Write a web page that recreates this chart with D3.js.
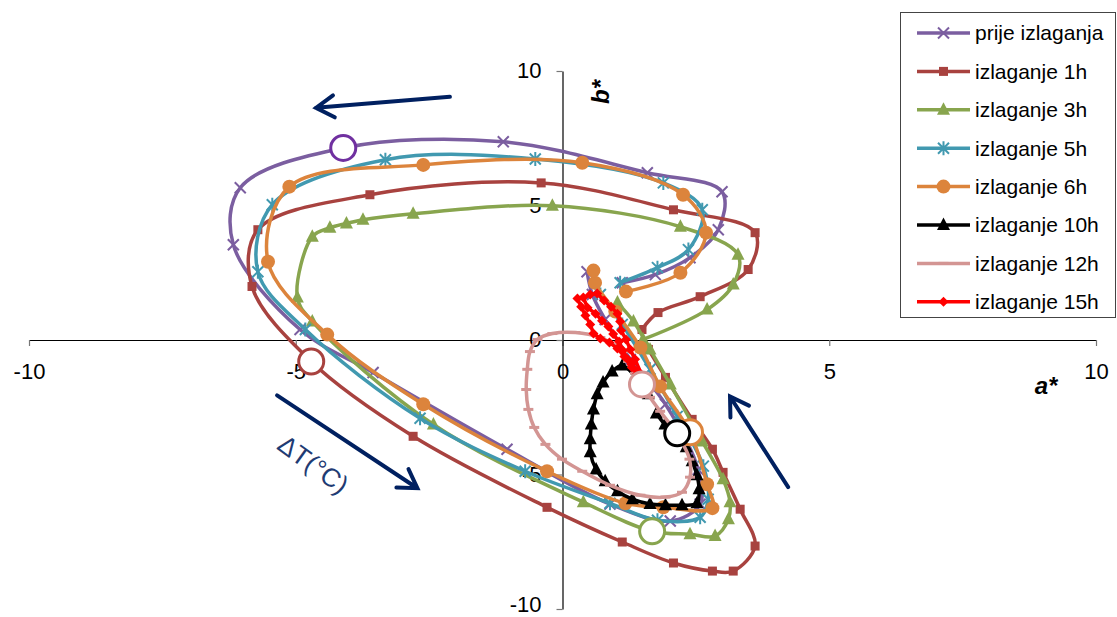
<!DOCTYPE html>
<html><head><meta charset="utf-8">
<script src="https://cdn.jsdelivr.net/npm/d3@7"></script>
<style>body{margin:0;background:#fff} svg{display:block} text{font-family:Arial,"Liberation Sans",sans-serif}</style>
</head><body><svg id="c" width="1117" height="617"></svg>
<script>
// ---------- data (a*, b*) ----------
const seriesNames = ["prije izlaganja","izlaganje 1h","izlaganje 3h","izlaganje 5h","izlaganje 6h","izlaganje 10h","izlaganje 12h","izlaganje 15h"];
const xTicks = [-10,-5,0,5,10];
const yTicks = [-10,-5,0,5,10];

const prije = [[1.12,2.13],[1.74,2.43],[2.39,3.06],[2.92,4.10],[2.99,5.51],[1.59,6.22],[-1.11,7.37],[-4.11,7.14],[-6.04,5.66],[-6.17,3.54],[-4.92,0.39],[-3.55,-1.21],[-1.04,-4.06],[0.89,-6.10],[2.02,-6.73],[2.58,-6.10],[2.54,-4.81],[1.93,-2.39],[1.27,-0.72],[0.80,0.76],[0.56,1.69],[0.46,2.54]];
const izl1h = [[1.49,0.39],[1.79,1.02],[2.58,1.61],[3.48,2.62],[3.61,3.99],[2.08,4.84],[-0.40,5.84],[-3.61,5.40],[-5.71,4.10],[-5.82,1.99],[-4.71,-0.80],[-2.80,-3.58],[-0.29,-6.22],[1.12,-7.51],[2.08,-8.29],[2.81,-8.59],[3.20,-8.59],[3.61,-7.66],[3.33,-6.29],[3.01,-4.92],[2.81,-4.06],[2.43,-2.95],[1.93,-1.39],[1.61,-0.35]];
const izl3h = [[1.51,0.02],[2.71,1.13],[3.20,2.06],[3.29,3.17],[2.21,4.21],[-0.19,4.99],[-2.80,4.69],[-3.74,4.47],[-4.05,4.33],[-4.36,4.17],[-4.69,3.84],[-4.97,1.58],[-4.69,0.69],[-2.42,-3.14],[0.39,-6.03],[1.68,-7.11],[2.39,-7.22],[2.86,-7.29],[3.11,-6.66],[3.14,-6.03],[3.01,-5.18],[2.62,-3.77],[2.02,-1.65],[1.64,-0.35],[1.33,0.69],[1.03,1.39]];
const izl5h = [[1.08,2.13],[1.78,2.69],[2.36,3.36],[2.62,4.84],[1.89,5.84],[-0.51,6.73],[-3.32,6.70],[-5.44,5.03],[-5.71,2.54],[-4.82,0.39],[-2.67,-2.91],[-0.70,-4.88],[0.89,-6.07],[1.78,-6.70],[2.58,-6.59],[2.73,-5.92],[2.64,-4.69],[2.15,-2.84],[1.64,-1.09],[1.12,0.58],[0.71,1.69]];
const izl6h = [[1.19,1.80],[2.21,2.50],[2.69,3.99],[2.26,5.40],[0.37,6.59],[-2.61,6.51],[-5.12,5.70],[-5.52,2.91],[-4.41,0.20],[-2.61,-2.39],[-0.29,-4.88],[1.18,-6.07],[1.89,-6.22],[2.81,-6.25],[2.71,-5.36],[2.39,-3.43],[1.83,-1.73],[1.46,-0.28],[0.99,1.06],[0.61,2.13],[0.58,2.58]];
const izl10h = [[1.61,-2.02],[1.38,-1.39],[1.12,-0.95],[0.93,-1.17],[0.76,-1.58],[0.65,-2.02],[0.58,-2.58],[0.54,-3.14],[0.52,-3.69],[0.52,-4.17],[0.63,-4.81],[0.80,-5.25],[1.03,-5.62],[1.31,-5.92],[1.64,-6.10],[1.93,-6.14],[2.24,-6.14],[2.52,-6.07],[2.56,-5.55],[2.52,-5.03],[2.43,-4.51],[2.32,-3.99],[2.15,-3.54],[1.92,-3.14],[1.76,-2.73]];
const izl12h = [[1.20,-0.43],[0.71,0.09],[0.24,0.28],[-0.19,0.24],[-0.47,0.02],[-0.61,-0.43],[-0.66,-1.09],[-0.68,-1.84],[-0.64,-2.58],[-0.53,-3.25],[-0.32,-3.88],[-0.01,-4.43],[0.37,-4.88],[0.89,-5.40],[1.46,-5.77],[1.93,-5.84],[2.24,-5.66],[2.39,-5.10],[2.38,-4.43],[2.26,-3.88],[2.06,-3.25],[1.83,-2.65],[1.64,-2.13],[1.49,-1.65],[1.36,-1.24],[1.23,-0.80]];
const izl15h = [[0.28,1.54],[0.35,1.24],[0.43,0.91],[0.52,0.58],[0.58,0.24],[0.71,0.06],[0.88,-0.09],[1.03,-0.32],[1.16,-0.61],[1.29,-0.91],[1.42,-1.17],[1.49,-1.32],[1.36,-0.72],[1.27,-0.35],[1.19,0.02],[1.10,0.35],[1.08,0.69],[1.03,0.98],[0.91,1.24],[0.78,1.47],[0.65,1.73],[0.52,1.69],[0.39,1.58],[0.47,1.20],[0.62,0.98],[0.74,0.72],[0.86,0.50],[0.95,0.22],[1.06,-0.06],[1.13,-0.39],[1.22,-0.72],[1.30,-1.02],[1.40,-1.25]];

// highlighted (open circle) points per series
const circlePoints = [[-4.11,7.14],[-4.71,-0.80],[1.68,-7.11],[2.39,-3.43],[2.15,-3.47],[1.49,-1.65]];

// ---------- style ----------
const colors = ["#7B5EA0","#A8423F","#88A54E","#4199B0","#DC843C","#000000","#D39593","#FF0000"];
const circleColors = ["#7030A0","#A8423F","#88A54E","#DC843C","#000000","#D39593"];
const markers = ["x","square","triangle","star","circle","triangle","dash","diamond"];
const allData = [prije,izl1h,izl3h,izl5h,izl6h,izl10h,izl12h,izl15h];

const svg = d3.select("#c");
const x = d3.scaleLinear().domain([-10,10]).range([29,1096]);
const y = d3.scaleLinear().domain([-10,10]).range([609,71]);

// axes
const xAx = svg.append("g").attr("transform",`translate(0,${y(0)})`)
  .call(d3.axisBottom(x).tickValues(xTicks).tickSize(6).tickSizeOuter(0).tickPadding(17).tickFormat(d=>String(d)));
const yAx = svg.append("g").attr("transform",`translate(${x(0)},0)`)
  .call(d3.axisLeft(y).tickValues(yTicks).tickSize(6).tickSizeOuter(0).tickPadding(15).tickFormat(d=>String(d)));
[xAx,yAx].forEach(g=>{
  g.selectAll("path").attr("stroke","#000").attr("stroke-width",1.2);
  g.selectAll("line").attr("stroke","#777").attr("stroke-width",1.2);
  g.selectAll("text").attr("font-size",22).attr("fill","#000").attr("font-family","Arial, 'Liberation Sans', sans-serif");
});
yAx.selectAll("text").attr("dy",d=>d===-10?"0.12em":"0.3em");

svg.append("text").attr("x",1046).attr("y",394).attr("text-anchor","middle")
  .attr("font-size",24).attr("font-weight","bold").attr("font-style","italic").text("a*");
svg.append("text").attr("transform","translate(609,92) rotate(-90)").attr("text-anchor","middle")
  .attr("font-size",24).attr("font-weight","bold").attr("font-style","italic").text("b*");

function drawMarker(g, type, color, px, py){
  const t = `translate(${px},${py})`;
  if(type==="x") g.append("path").attr("transform",t).attr("d","M-5.5,-5.5L5.5,5.5M-5.5,5.5L5.5,-5.5").attr("stroke",color).attr("stroke-width",2).attr("fill","none");
  else if(type==="star") g.append("path").attr("transform",t).attr("d","M-5.5,-5.5L5.5,5.5M-5.5,5.5L5.5,-5.5M0,-7L0,7").attr("stroke",color).attr("stroke-width",2).attr("fill","none");
  else if(type==="square") g.append("rect").attr("x",px-4.5).attr("y",py-4.5).attr("width",9).attr("height",9).attr("fill",color);
  else if(type==="triangle") g.append("path").attr("transform",t).attr("d","M0,-7.5L6.5,5L-6.5,5Z").attr("fill",color);
  else if(type==="circle") g.append("circle").attr("cx",px).attr("cy",py).attr("r",7).attr("fill",color);
  else if(type==="dash") g.append("path").attr("transform",t).attr("d","M-5,0L5,0").attr("stroke",color).attr("stroke-width",3);
  else if(type==="diamond") g.append("path").attr("transform",t).attr("d","M0,-5L5,0L0,5L-5,0Z").attr("fill",color);
}

const line = d3.line().x(d=>x(d[0])).y(d=>y(d[1]));
allData.forEach((data,i)=>{
  const g = svg.append("g");
  g.append("path").datum(data)
    .attr("d", line.curve(i===7 ? d3.curveLinear : d3.curveCatmullRom.alpha(0.5)))
    .attr("fill","none").attr("stroke",colors[i]).attr("stroke-width",3.5).attr("stroke-linejoin","round");
  data.forEach(d=>drawMarker(g, markers[i], colors[i], x(d[0]), y(d[1])));
});

// open circles
svg.append("g").selectAll("circle").data(circlePoints).join("circle")
  .attr("cx",d=>x(d[0])).attr("cy",d=>y(d[1])).attr("r",12.5)
  .attr("fill","#fff").attr("stroke",(d,i)=>circleColors[i]).attr("stroke-width",3);

// arrows (annotations in data units)
const arrows = [[[-2.11,9.04],[-4.62,8.63]],[[-5.35,-2.06],[-2.72,-5.51]],[[4.23,-5.47],[3.14,-2.10]]];
const navy = "#002060";
arrows.forEach(([s,e])=>{
  const x1=x(s[0]),y1=y(s[1]),x2=x(e[0]),y2=y(e[1]);
  const ang=Math.atan2(y2-y1,x2-x1), L=21, w=0.55;
  const ax1=x2-L*Math.cos(ang-w), ay1=y2-L*Math.sin(ang-w);
  const ax2=x2-L*Math.cos(ang+w), ay2=y2-L*Math.sin(ang+w);
  svg.append("path").attr("d",`M${x1},${y1}L${x2},${y2}M${ax1},${ay1}L${x2},${y2}L${ax2},${ay2}`)
    .attr("fill","none").attr("stroke",navy).attr("stroke-width",4).attr("stroke-linecap","round").attr("stroke-linejoin","miter");
});
svg.append("text").attr("transform",`translate(${x(-4.67)},${y(-4.62)}) rotate(36)`)
  .attr("text-anchor","middle").attr("dy","0.35em").attr("font-size",26).attr("fill","#1F3B73").text("ΔT(°C)");

// legend
const lg = svg.append("g");
lg.append("rect").attr("x",900.5).attr("y",12.5).attr("width",215).attr("height",305).attr("fill","#fff").attr("stroke","#444").attr("stroke-width",1);
seriesNames.forEach((n,i)=>{
  const cy = 33 + i*38.4;
  lg.append("line").attr("x1",917).attr("x2",970).attr("y1",cy).attr("y2",cy).attr("stroke",colors[i]).attr("stroke-width",3.5);
  drawMarker(lg, markers[i], colors[i], 943.5, cy);
  lg.append("text").attr("x",975).attr("y",cy).attr("dy","0.35em").attr("font-size",21).attr("fill","#000").text(n);
});
</script></body></html>
